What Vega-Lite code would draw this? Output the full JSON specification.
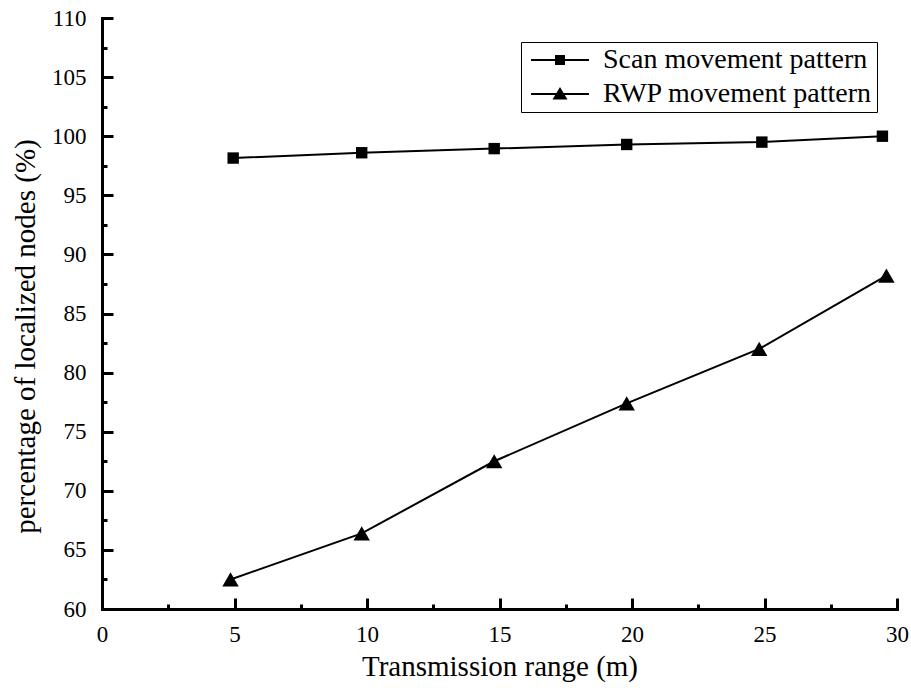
{
  "$schema": "https://vega.github.io/schema/vega-lite/v6.json",
  "width": 795,
  "height": 591,
  "autosize": {"type": "none"},
  "padding": {"left": 102, "top": 18, "right": 14, "bottom": 85},
  "background": "white",
  "config": {
    "view": {"stroke": null},
    "font": "Times New Roman",
    "axis": {"labelFont": "Times New Roman", "titleFont": "Times New Roman"},
    "legend": {"labelFont": "Times New Roman"}
  },
  "data": {
    "values": [
      {"series": "Scan movement pattern", "x": 4.95, "y": 98.15},
      {"series": "Scan movement pattern", "x": 9.8, "y": 98.6},
      {"series": "Scan movement pattern", "x": 14.8, "y": 98.95},
      {"series": "Scan movement pattern", "x": 19.8, "y": 99.3},
      {"series": "Scan movement pattern", "x": 24.9, "y": 99.5},
      {"series": "Scan movement pattern", "x": 29.45, "y": 100.0},
      {"series": "RWP movement pattern", "x": 4.85, "y": 62.5},
      {"series": "RWP movement pattern", "x": 9.8, "y": 66.4},
      {"series": "RWP movement pattern", "x": 14.8, "y": 72.5},
      {"series": "RWP movement pattern", "x": 19.8, "y": 77.4},
      {"series": "RWP movement pattern", "x": 24.8, "y": 82.0},
      {"series": "RWP movement pattern", "x": 29.6, "y": 88.2}
    ]
  },
  "encoding": {
    "x": {
      "field": "x", "type": "quantitative",
      "scale": {"domain": [0, 30], "nice": false, "zero": false},
      "axis": {
        "title": "Transmission range (m)",
        "values": [0, 2.5, 5, 7.5, 10, 12.5, 15, 17.5, 20, 22.5, 25, 27.5, 30],
        "labelExpr": "datum.value % 5 === 0 ? datum.label : ''",
        "grid": false,
        "domainColor": "black", "domainWidth": 3, "domainCap": "square",
        "tickColor": "black", "tickWidth": 3, "tickOpacity": 1,
        "tickSize": {"condition": {"test": "datum.value % 5 === 0", "value": -11}, "value": -5},
        "labelFont": "Times New Roman", "labelFontSize": 23, "labelColor": "black",
        "labelPadding": 25, "labelFlush": false, "labelOverlap": false,
        "titleFont": "Times New Roman", "titleFontSize": 29, "titleFontWeight": "normal", "titleColor": "black",
        "titlePadding": 0,
        "encode": {
          "labels": {"update": {"font": {"value": "Times New Roman"}}},
          "ticks": {"update": {"stroke": {"value": "black"}, "strokeWidth": {"value": 3}}}
        }
      }
    },
    "y": {
      "field": "y", "type": "quantitative",
      "scale": {"domain": [60, 110], "nice": false, "zero": false},
      "axis": {
        "title": "percentage of localized nodes (%)",
        "values": [60, 62.5, 65, 67.5, 70, 72.5, 75, 77.5, 80, 82.5, 85, 87.5, 90, 92.5, 95, 97.5, 100, 102.5, 105, 107.5, 110],
        "labelExpr": "datum.value % 5 === 0 ? datum.label : ''",
        "grid": false,
        "domainColor": "black", "domainWidth": 3, "domainCap": "square",
        "tickColor": "black", "tickWidth": 3, "tickOpacity": 1,
        "tickSize": {"condition": {"test": "datum.value % 5 === 0", "value": -11}, "value": -5},
        "labelFont": "Times New Roman", "labelFontSize": 23, "labelColor": "black",
        "labelPadding": 27, "labelFlush": false, "labelOverlap": false,
        "titleFont": "Times New Roman", "titleFontSize": 29, "titleFontWeight": "normal", "titleColor": "black",
        "titleX": -77,
        "titleY": 318,
        "titleBaseline": "middle",
        "titleAngle": -90,
        "encode": {
          "labels": {"update": {"font": {"value": "Times New Roman"}}},
          "ticks": {"update": {"stroke": {"value": "black"}, "strokeWidth": {"value": 3}}}
        }
      }
    }
  },
  "layer": [
    {
      "mark": {"type": "line", "color": "black", "strokeWidth": 2},
      "encoding": {"detail": {"field": "series"}}
    },
    {
      "transform": [{"filter": "datum.series === 'Scan movement pattern'"}],
      "mark": {"type": "point", "shape": "square", "filled": true, "color": "black", "opacity": 1, "size": 130}
    },
    {
      "transform": [{"filter": "datum.series === 'RWP movement pattern'"}],
      "mark": {"type": "point", "shape": "triangle-up", "filled": true, "color": "black", "opacity": 1, "size": 270}
    },
    {
      "mark": {"type": "point", "filled": true, "color": "black", "opacity": 0},
      "encoding": {
        "shape": {
          "field": "series", "type": "nominal",
          "sort": ["Scan movement pattern", "RWP movement pattern"],
          "scale": {
            "domain": ["Scan movement pattern", "RWP movement pattern"],
            "range": [
              "M-2.9,-0.09H2.9V0.09H-2.9Z M-0.5,-0.5H0.5V0.5H-0.5Z",
              "M-2.9,-0.09H2.9V0.09H-2.9Z M0,-0.7L0.75,0.55H-0.75Z"
            ]
          },
          "legend": {
            "title": null,
            "orient": "none",
            "legendX": 419,
            "legendY": 24,
            "strokeColor": "black",
            "fillColor": "white",
            "padding": 4,
            "symbolSize": 400,
            "symbolFillColor": "black",
            "symbolStrokeColor": "black",
            "symbolStrokeWidth": 0,
            "symbolOpacity": 1,
            "symbolOffset": 21,
            "labelOffset": 29,
            "labelLimit": 0,
            "labelFont": "Times New Roman",
            "labelFontSize": 28,
            "labelColor": "black",
            "rowPadding": 6
          }
        }
      }
    }
  ]
}
